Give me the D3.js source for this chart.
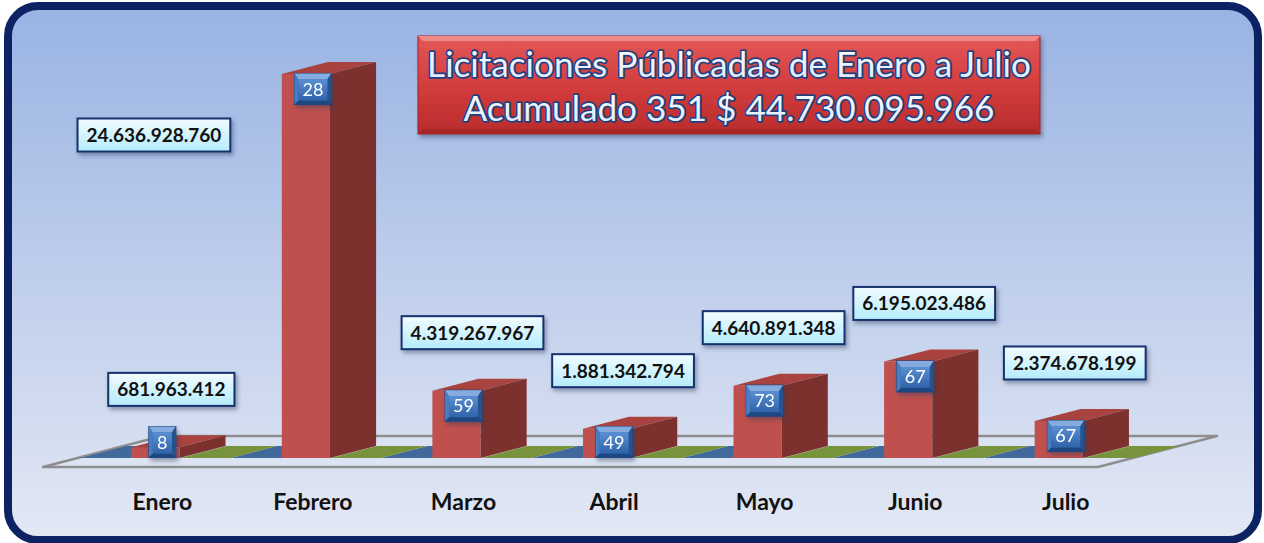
<!DOCTYPE html>
<html>
<head>
<meta charset="utf-8">
<script src="https://cdn.jsdelivr.net/npm/d3@7"></script>
<style>
  body { margin: 0; background: #fff; }
  svg text { font-family: Lato, "Noto Sans", sans-serif; }
</style>
</head>
<body>
<svg id="chart"></svg>
<script>
// data
const months = ['Enero', 'Febrero', 'Marzo', 'Abril', 'Mayo', 'Junio', 'Julio'];
const amounts = [681963412, 24636928760, 4319267967, 1881342794, 4640891348, 6195023486, 2374678199];
const counts = [8, 28, 59, 49, 73, 67, 67];
const seriesBlue = [0, 0, 0, 0, 0, 0, 0];
const seriesGreen = [0, 0, 0, 0, 0, 0, 0];
const titleLine1 = 'Licitaciones Públicadas de Enero a Julio';

const W = 1264, H = 543;
const FRONT_Y = 467;   // floor front edge
const KX = 3.84;       // x shift per unit of depth
const FLOOR_D = 31, BAR_Z0 = 9, BAR_Z1 = 21;

const loc = d3.formatLocale({ decimal: ',', thousands: '.', grouping: [3], currency: ['$', ''] });
const fmt = loc.format(',d');

const svg = d3.select('#chart').attr('width', W).attr('height', H);
const defs = svg.append('defs');

function vGrad(id, stops) {
    const g = defs.append('linearGradient').attr('id', id)
        .attr('x1', 0).attr('y1', 0).attr('x2', 0).attr('y2', 1);
    stops.forEach(s => g.append('stop').attr('offset', s[0]).attr('stop-color', s[1]));
}
vGrad('bg', [[0, '#99b3e3'], [1, '#e3e8f4']]);
vGrad('valBox', [[0, '#f2fcff'], [1, '#b4ebfb']]);
vGrad('cntBox', [[0, '#5a8fd2'], [1, '#2f63aa']]);
vGrad('titleBox', [[0, '#e25858'], [0.5, '#d43d3d'], [1, '#b92c2c']]);
vGrad('titleText', [[0, '#ffffff'], [1, '#dce8fb']]);

const shadow = defs.append('filter').attr('id', 'shadow')
    .attr('x', '-20%').attr('y', '-20%').attr('width', '150%').attr('height', '170%');
shadow.append('feDropShadow').attr('dx', 2).attr('dy', 3).attr('stdDeviation', 2)
    .attr('flood-color', '#2a3a5a').attr('flood-opacity', 0.45);

// frame
svg.append('rect')
    .attr('x', 8).attr('y', 6).attr('width', 1250).attr('height', 534)
    .attr('rx', 30)
    .attr('fill', 'url(#bg)')
    .attr('stroke', '#0c2262').attr('stroke-width', 8);

// scales
const xScale = d3.scaleBand().domain(months).range([45.5, 1099.5]);
const sScale = d3.scaleBand().domain([0, 1, 2]).range([0, xScale.bandwidth()]);
const hScale = d3.scaleLinear().domain([0, d3.max(amounts)]).range([0, 384]);

const P = (x, z, h) => [x + z * KX, FRONT_Y - z - h];
const poly = pts => pts.map(p => p.join(',')).join(' ');

const plot = svg.append('g');

// floor
const fx0 = xScale.range()[0] - 2.5, fx1 = xScale.range()[1] - 1.5;
plot.append('polygon')
    .attr('points', poly([P(fx0, 0, 0), P(fx1, 0, 0), P(fx1, FLOOR_D, 0), P(fx0, FLOOR_D, 0)]))
    .attr('fill', 'rgba(255,255,255,0.12)')
    .attr('stroke', '#8e8e8e').attr('stroke-width', 2.5)
    .attr('stroke-linejoin', 'round');

const series = [
    { values: seriesBlue, slot: 0, front: '#4f81bd', top: '#41699c', side: '#355a8a' },
    { values: seriesGreen, slot: 2, front: '#9bbb59', top: '#77933c', side: '#5f7830' },
    { values: amounts, slot: 1, front: '#c0504d', top: '#a8433f', side: '#7d312f', inset: 1 }
];

function drawBox(g, x0, x1, h, s) {
    const faces = [
        { pts: [P(x0, BAR_Z0, 0), P(x1, BAR_Z0, 0), P(x1, BAR_Z0, h), P(x0, BAR_Z0, h)], c: s.front },
        { pts: [P(x0, BAR_Z0, h), P(x1, BAR_Z0, h), P(x1, BAR_Z1, h), P(x0, BAR_Z1, h)], c: s.top },
        { pts: [P(x1, BAR_Z0, 0), P(x1, BAR_Z1, 0), P(x1, BAR_Z1, h), P(x1, BAR_Z0, h)], c: s.side }
    ];
    g.selectAll(null).data(faces.filter(f => h > 0 || f.c === s.top))
        .join('polygon')
        .attr('points', f => poly(f.pts))
        .attr('fill', f => f.c);
}

series.forEach(s => {
    const g = plot.append('g');
    months.forEach((m, i) => {
        const inset = s.inset || 0;
        const x0 = xScale(m) + sScale(s.slot) + inset;
        const x1 = xScale(m) + sScale(s.slot) + sScale.bandwidth() - inset;
        drawBox(g, x0, x1, hScale(s.values[i]), s);
    });
});

// helper: front centre / top of red bar
const barCx = m => xScale(m) + sScale(1) + sScale.bandwidth() / 2 + BAR_Z0 * KX;
const barTop = i => FRONT_Y - BAR_Z0 - hScale(amounts[i]);

// count boxes (bevelled)
const cntG = plot.append('g');
months.forEach((m, i) => {
    const g = cntG.append('g').attr('filter', 'url(#shadow)');
    const t = g.append('text').text(counts[i])
        .attr('font-size', 18).attr('fill', '#fff').attr('text-anchor', 'middle');
    const tw = t.node().getComputedTextLength();
    const w = Math.max(27, tw + 16), h = 31, b = 4;
    const cx = barCx(m) + 7;
    const cy = Math.min(barTop(i) + 15, FRONT_Y - BAR_Z0 - 16);
    const x0 = cx - w / 2, y0 = cy - h / 2, x1 = cx + w / 2, y1 = cy + h / 2;
    g.insert('rect', 'text').attr('x', x0).attr('y', y0).attr('width', w).attr('height', h)
        .attr('fill', '#2c5c9e').attr('stroke', '#1d4482').attr('stroke-width', 1);
    const bev = [
        { pts: [[x0, y0], [x1, y0], [x1 - b, y0 + b + 2], [x0 + b, y0 + b + 2]], c: '#86acdf' },
        { pts: [[x0, y0], [x0 + b, y0 + b + 2], [x0 + b, y1 - b], [x0, y1]], c: '#4a7dc2' },
        { pts: [[x1, y0], [x1, y1], [x1 - b, y1 - b], [x1 - b, y0 + b + 2]], c: '#27528f' },
        { pts: [[x0, y1], [x0 + b, y1 - b], [x1 - b, y1 - b], [x1, y1]], c: '#1f4780' }
    ];
    g.selectAll('polygon').data(bev).join('polygon')
        .attr('points', d => poly(d.pts)).attr('fill', d => d.c);
    g.append('rect').attr('x', x0 + b).attr('y', y0 + b + 2)
        .attr('width', w - 2 * b).attr('height', h - 2 * b - 2)
        .attr('fill', 'url(#cntBox)');
    t.raise().attr('x', cx).attr('y', cy + 6.5);
});

// amount boxes
const valG = plot.append('g');
months.forEach((m, i) => {
    const top = barTop(i);
    const above = top - 58;
    // tallest bar: label sits beside it on the left
    const beside = above < 100;
    const cx = beside ? barCx(m) - 152 : barCx(m) + 16;
    const cy = beside ? top + 61 : above;
    const g = valG.append('g');
    const t = g.append('text').text(fmt(amounts[i]))
        .attr('font-size', 19).attr('font-weight', 700).attr('fill', '#111')
        .attr('text-anchor', 'middle').attr('x', cx).attr('y', cy + 7);
    const w = t.node().getComputedTextLength() + 18, h = 33;
    g.insert('rect', 'text')
        .attr('x', cx - w / 2).attr('y', cy - h / 2).attr('width', w).attr('height', h)
        .attr('fill', 'url(#valBox)').attr('stroke', '#17306e').attr('stroke-width', 2)
        .attr('filter', 'url(#shadow)');
});

// category labels
plot.append('g').selectAll('text').data(months).join('text')
    .attr('x', m => barCx(m) + 7)
    .attr('y', 510)
    .attr('text-anchor', 'middle')
    .attr('font-size', 23).attr('font-weight', 700).attr('fill', '#111')
    .text(m => m);

// title box
const tb = { x: 418, y: 36, w: 622, h: 98 };
const tg = svg.append('g');
tg.append('rect').attr('x', tb.x).attr('y', tb.y).attr('width', tb.w).attr('height', tb.h)
    .attr('fill', 'url(#titleBox)').attr('stroke', '#9c2222').attr('stroke-width', 1)
    .attr('filter', 'url(#shadow)');
const tb2 = 5;
tg.append('polygon')
    .attr('points', poly([[tb.x, tb.y], [tb.x + tb.w, tb.y], [tb.x + tb.w - tb2, tb.y + tb2], [tb.x + tb2, tb.y + tb2]]))
    .attr('fill', '#ef8a8a');
tg.append('polygon')
    .attr('points', poly([[tb.x, tb.y + tb.h], [tb.x + tb2, tb.y + tb.h - tb2], [tb.x + tb.w - tb2, tb.y + tb.h - tb2], [tb.x + tb.w, tb.y + tb.h]]))
    .attr('fill', '#a82626');

const titleLines = [titleLine1, `Acumulado ${d3.sum(counts)} $ ${fmt(d3.sum(amounts))}`];
const tt = tg.selectAll('text.title').data(titleLines).join('text')
    .attr('class', 'title')
    .attr('x', tb.x + tb.w / 2)
    .attr('y', (d, i) => tb.y + 41 + i * 44)
    .attr('text-anchor', 'middle')
    .attr('font-size', 36)
    .attr('fill', 'url(#titleText)')
    .attr('stroke', '#1f3f80').attr('stroke-width', 3.5)
    .attr('stroke-linejoin', 'round')
    .attr('paint-order', 'stroke')
    .text(d => d);
// fit first line into the box
const l1 = tt.node().getComputedTextLength();
const fs = 36 * (tb.w - 18) / l1;
tt.attr('font-size', fs);
</script>
</body>
</html>
